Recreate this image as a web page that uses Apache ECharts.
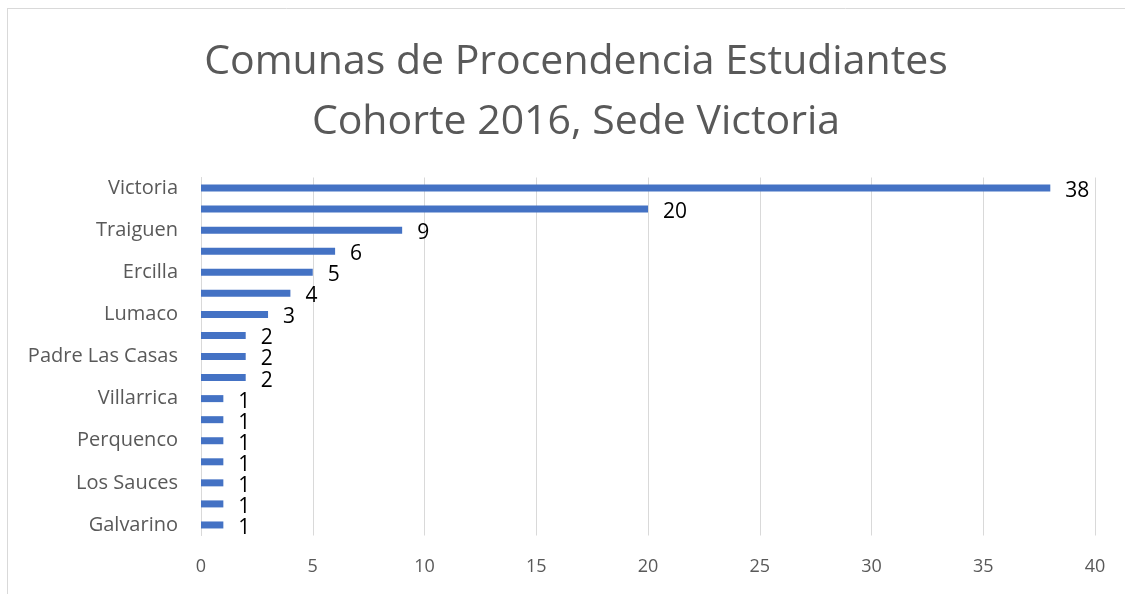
<!DOCTYPE html>
<html>
<head>
<meta charset="utf-8">
<script src="https://cdn.jsdelivr.net/npm/echarts@6/dist/echarts.min.js"></script>
<style>
  html, body { margin: 0; padding: 0; background: #fff; }
  #chart { width: 1125px; height: 594px; }
</style>
</head>
<body>
<div id="chart"></div>
<script>
// comunas, de arriba hacia abajo (las que no muestran etiqueta son estimadas)
var comunas = [
  "Victoria", "Angol", "Traiguen", "Collipulli", "Ercilla", "Temuco",
  "Lumaco", "Curacautín", "Padre Las Casas", "Lautaro", "Villarrica",
  "Purén", "Perquenco", "Renaico", "Los Sauces", "Pucón", "Galvarino"
];
var estudiantes = [38, 20, 9, 6, 5, 4, 3, 2, 2, 2, 1, 1, 1, 1, 1, 1, 1];
var ticksX = [0, 5, 10, 15, 20, 25, 30, 35, 40];

var myChart = echarts.init(document.getElementById("chart"));
var option = {
  animation: false,
  title: {
    text: "Comunas de Procendencia Estudiantes\nCohorte 2016, Sede Victoria",
    left: 571,
    top: 27,
    textAlign: "center",
    textStyle: {
      fontFamily: "Open Sans",
      fontSize: 41,
      fontWeight: "normal",
      color: "#595959",
      lineHeight: 60
    }
  },
  grid: {
    left: 201,
    right: 30,
    top: 177.5,
    bottom: 58.5,
    containLabel: false
  },
  xAxis: {
    type: "value",
    min: ticksX[0],
    max: ticksX[ticksX.length - 1],
    interval: 5,
    axisLine: { show: false },
    axisTick: { show: false },
    splitLine: { lineStyle: { color: "#d9d9d9", width: 1 } },
    axisLabel: {
      margin: 22,
      fontFamily: "Open Sans",
      fontSize: 18,
      color: "#595959"
    }
  },
  yAxis: {
    type: "category",
    data: comunas,
    inverse: true,
    axisTick: { show: false },
    axisLine: { lineStyle: { color: "#d9d9d9", width: 1 } },
    axisLabel: {
      interval: 1,
      margin: 23,
      fontFamily: "Open Sans",
      fontSize: 20,
      color: "#595959"
    }
  },
  series: [
    {
      type: "bar",
      data: estudiantes,
      barWidth: 7,
      itemStyle: { color: "#4472c4" },
      label: {
        show: true,
        position: "right",
        distance: 15,
        offset: [0, 3],
        fontFamily: "Open Sans",
        fontSize: 21,
        color: "#000000"
      }
    }
  ],
  graphic: [
    { type: "line", shape: { x1: 7, y1: 8.5, x2: 1125, y2: 8.5 }, style: { stroke: "#d9d9d9", lineWidth: 1 } },
    { type: "line", shape: { x1: 7.5, y1: 8, x2: 7.5, y2: 594 }, style: { stroke: "#d9d9d9", lineWidth: 1 } }
  ]
};
myChart.setOption(option);
window.addEventListener("resize", function () {
  myChart.resize();
});
</script>
</body>
</html>
